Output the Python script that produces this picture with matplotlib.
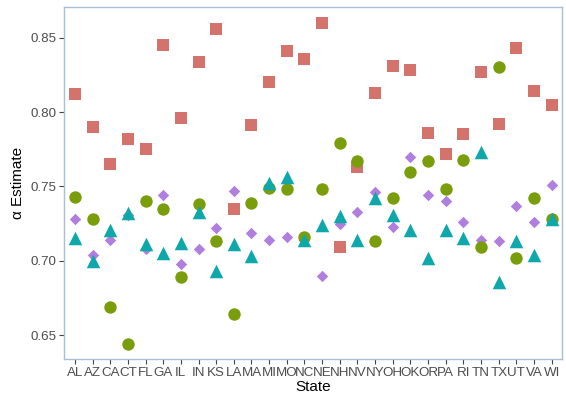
import matplotlib
matplotlib.use("Agg")
import matplotlib.pyplot as plt

plt.rcParams['font.family'] = ['Liberation Sans', 'DejaVu Sans']

states = ["AL", "AZ", "CA", "CT", "FL", "GA", "IL", "IN", "KS", "LA", "MA", "MI", "MO", "NC",
          "NE", "NH", "NV", "NY", "OH", "OK", "OR", "PA", "RI", "TN", "TX", "UT", "VA", "WI"]

# four estimates per state
est_square = [0.812, 0.790, 0.765, 0.782, 0.775, 0.845, 0.796, 0.834, 0.856, 0.735, 0.791, 0.820, 0.841, 0.836,
              0.860, 0.709, 0.763, 0.813, 0.831, 0.828, 0.786, 0.772, 0.785, 0.827, 0.792, 0.843, 0.814, 0.805]
est_circle = [0.743, 0.728, 0.669, 0.644, 0.740, 0.735, 0.689, 0.738, 0.713, 0.664, 0.739, 0.749, 0.748, 0.716,
              0.748, 0.779, 0.767, 0.713, 0.742, 0.760, 0.767, 0.748, 0.768, 0.709, 0.830, 0.702, 0.742, 0.728]
est_triangle = [0.715, 0.700, 0.721, 0.732, 0.711, 0.705, 0.712, 0.733, 0.693, 0.711, 0.703, 0.752, 0.756, 0.714,
                0.724, 0.730, 0.714, 0.742, 0.731, 0.721, 0.702, 0.721, 0.715, 0.773, 0.686, 0.713, 0.704, 0.728]
est_diamond = [0.728, 0.704, 0.714, 0.731, 0.708, 0.744, 0.698, 0.708, 0.722, 0.747, 0.719, 0.714, 0.716, 0.714,
               0.690, 0.725, 0.733, 0.746, 0.723, 0.770, 0.744, 0.740, 0.726, 0.714, 0.713, 0.737, 0.726, 0.751]

fig = plt.figure(figsize=(5.66, 3.96), dpi=100)
ax = fig.add_axes([0.1136, 0.0934, 0.8799, 0.8886])

x = range(len(states))
ax.scatter(x, est_square, marker="s", s=80, color="#D4736C", linewidths=0, zorder=2)
ax.scatter(x, est_diamond, marker="D", s=34, color="#B07EDE", linewidths=0, zorder=3)
ax.scatter(x, est_circle, marker="o", s=80, color="#7A9D0C", linewidths=0, zorder=4)
ax.scatter(x, est_triangle, marker="^", s=95, color="#0EA8AA", linewidths=0, zorder=5)

ax.set_xlim(-0.6, len(states) - 0.4)
ax.set_ylim(0.6339, 0.8706)
ax.set_xticks(list(x))
ax.set_xticklabels(states)
ax.set_yticks([0.65, 0.70, 0.75, 0.80, 0.85])
ax.set_yticklabels(["0.65", "0.70", "0.75", "0.80", "0.85"])

for side in ax.spines.values():
    side.set_color("#A7C0D6")
    side.set_linewidth(1.0)
ax.tick_params(axis="both", direction="out", length=3.5, width=0.8, color="#444444",
               labelcolor="#4D4D4D", labelsize=9.6, pad=2)

ax.set_xlabel("State", fontsize=11, labelpad=1)
ax.set_ylabel("α Estimate", fontsize=11, labelpad=4)

fig.savefig("out.png", dpi=100)
